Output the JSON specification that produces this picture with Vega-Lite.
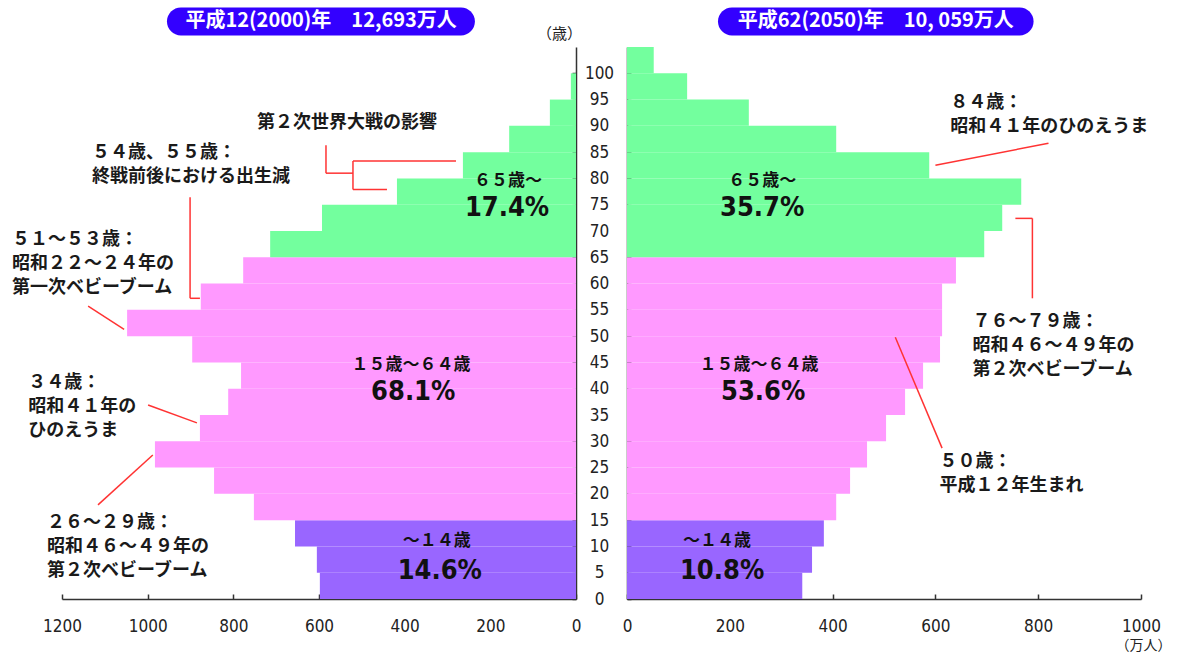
{
  "$schema": "https://vega.github.io/schema/vega-lite/v6.json",
  "width": 1178,
  "height": 599,
  "autosize": {"type": "none"},
  "padding": {"left": 0, "top": 0, "right": 0, "bottom": 55},
  "background": "white",
  "config": {
    "view": {"stroke": null},
    "axis": {"grid": false, "domainColor": "#333333", "tickColor": "#333333", "domainWidth": 1.5, "tickWidth": 1.5, "labelFont": "DejaVu Sans Condensed, Liberation Sans, sans-serif", "labelFontSize": 17, "labelColor": "#222222", "labelOverlap": false, "labelFlush": false, "labelBound": false, "format": "d", "titleFont": "Noto Sans CJK JP", "titleFontSize": 14, "titleFontWeight": "normal", "titleColor": "#222222"},
    "text": {"font": "Noto Sans CJK JP"}
  },
  "datasets": {
    "bars2000": [
      {"a": 0, "a2": 5, "v": 598, "grp": "0-14"},
      {"a": 5, "a2": 10, "v": 605, "grp": "0-14"},
      {"a": 10, "a2": 15, "v": 656, "grp": "0-14"},
      {"a": 15, "a2": 20, "v": 752, "grp": "15-64"},
      {"a": 20, "a2": 25, "v": 845, "grp": "15-64"},
      {"a": 25, "a2": 30, "v": 983, "grp": "15-64"},
      {"a": 30, "a2": 35, "v": 878, "grp": "15-64"},
      {"a": 35, "a2": 40, "v": 812, "grp": "15-64"},
      {"a": 40, "a2": 45, "v": 782, "grp": "15-64"},
      {"a": 45, "a2": 50, "v": 896, "grp": "15-64"},
      {"a": 50, "a2": 55, "v": 1048, "grp": "15-64"},
      {"a": 55, "a2": 60, "v": 876, "grp": "15-64"},
      {"a": 60, "a2": 65, "v": 777, "grp": "15-64"},
      {"a": 65, "a2": 70, "v": 714, "grp": "65+"},
      {"a": 70, "a2": 75, "v": 593, "grp": "65+"},
      {"a": 75, "a2": 80, "v": 418, "grp": "65+"},
      {"a": 80, "a2": 85, "v": 264, "grp": "65+"},
      {"a": 85, "a2": 90, "v": 156, "grp": "65+"},
      {"a": 90, "a2": 95, "v": 61, "grp": "65+"},
      {"a": 95, "a2": 100, "v": 12, "grp": "65+"}
    ],
    "bars2050": [
      {"a": 0, "a2": 5, "v": 341, "grp": "0-14"},
      {"a": 5, "a2": 10, "v": 360, "grp": "0-14"},
      {"a": 10, "a2": 15, "v": 383, "grp": "0-14"},
      {"a": 15, "a2": 20, "v": 407, "grp": "15-64"},
      {"a": 20, "a2": 25, "v": 434, "grp": "15-64"},
      {"a": 25, "a2": 30, "v": 467, "grp": "15-64"},
      {"a": 30, "a2": 35, "v": 504, "grp": "15-64"},
      {"a": 35, "a2": 40, "v": 541, "grp": "15-64"},
      {"a": 40, "a2": 45, "v": 576, "grp": "15-64"},
      {"a": 45, "a2": 50, "v": 609, "grp": "15-64"},
      {"a": 50, "a2": 55, "v": 613, "grp": "15-64"},
      {"a": 55, "a2": 60, "v": 613, "grp": "15-64"},
      {"a": 60, "a2": 65, "v": 640, "grp": "15-64"},
      {"a": 65, "a2": 70, "v": 695, "grp": "65+"},
      {"a": 70, "a2": 75, "v": 730, "grp": "65+"},
      {"a": 75, "a2": 80, "v": 767, "grp": "65+"},
      {"a": 80, "a2": 85, "v": 588, "grp": "65+"},
      {"a": 85, "a2": 90, "v": 407, "grp": "65+"},
      {"a": 90, "a2": 95, "v": 237, "grp": "65+"},
      {"a": 95, "a2": 100, "v": 117, "grp": "65+"},
      {"a": 100, "a2": 105, "v": 52, "grp": "65+"}
    ],
    "groups2000": [
      {"v": 159, "a": 79.5, "t": "６５歳～"},
      {"v": 385, "a": 44.5, "t": "１５歳～６４歳"},
      {"v": 325, "a": 11, "t": "～１４歳"}
    ],
    "pct2000": [
      {"v": 161, "a": 74.4, "t": "17.4%"},
      {"v": 380, "a": 39.3, "t": "68.1%"},
      {"v": 318, "a": 5.3, "t": "14.6%"}
    ],
    "groups2050": [
      {"v": 263, "a": 79.5, "t": "６５歳～"},
      {"v": 257, "a": 44.5, "t": "１５歳～６４歳"},
      {"v": 175, "a": 11, "t": "～１４歳"}
    ],
    "pct2050": [
      {"v": 263, "a": 74.4, "t": "35.7%"},
      {"v": 265, "a": 39.3, "t": "53.6%"},
      {"v": 185, "a": 5.3, "t": "10.8%"}
    ],
    "notes2000": [
      {"v": 745, "a": 92.2, "t": "第２次世界大戦の影響"},
      {"v": 1130, "a": 86.5, "t": "５４歳、５５歳：\n終戦前後における出生減"},
      {"v": 1317, "a": 70.0, "t": "５１～５３歳：\n昭和２２～２４年の\n第一次ベビーブーム"},
      {"v": 1279, "a": 42.8, "t": "３４歳：\n昭和４１年の\nひのえうま"},
      {"v": 1235, "a": 16.2, "t": "２６～２９歳：\n昭和４６～４９年の\n第２次ベビーブーム"}
    ],
    "notes2050": [
      {"v": 629, "a": 96.0, "t": "８４歳：\n昭和４１年のひのえうま"},
      {"v": 672, "a": 54.4, "t": "７６～７９歳：\n昭和４６～４９年の\n第２次ベビーブーム"},
      {"v": 608, "a": 27.8, "t": "５０歳：\n平成１２年生まれ"}
    ],
    "lines2000": [
      {"v": 583.7, "v2": 583.7, "a": 86.3, "a2": 81.0},
      {"v": 583.7, "v2": 520.7, "a": 81.0, "a2": 81.0},
      {"v": 520.7, "v2": 520.7, "a": 83.3, "a2": 77.9},
      {"v": 520.7, "v2": 280.2, "a": 83.3, "a2": 83.3},
      {"v": 520.7, "v2": 441.3, "a": 77.9, "a2": 77.9},
      {"v": 901, "v2": 901, "a": 76.4, "a2": 57.2},
      {"v": 901, "v2": 878, "a": 57.2, "a2": 57.2},
      {"v": 1139, "v2": 1055, "a": 55.7, "a2": 51.3},
      {"v": 999, "v2": 885, "a": 36.9, "a2": 33.5},
      {"v": 1116, "v2": 988, "a": 17.9, "a2": 27.4}
    ],
    "lines2050": [
      {"v": 600, "v2": 820, "a": 82.5, "a2": 86.7},
      {"v": 755.6, "v2": 788.7, "a": 72.4, "a2": 72.4},
      {"v": 788.7, "v2": 788.7, "a": 72.4, "a2": 57.2},
      {"v": 522, "v2": 613, "a": 49.8, "a2": 28.7}
    ],
    "pill2000": [{"v": 955, "v2": 236, "a": 112.5, "a2": 107.2}],
    "pill2050": [{"v": 177, "v2": 791, "a": 112.5, "a2": 107.2}],
    "pilltext2000": [{"v": 595, "a": 109.9, "t": "平成12(2000)年　12,693万人"}],
    "pilltext2050": [{"v": 484, "a": 109.9, "t": "平成62(2050)年　10, 059万人"}]
  },
  "layer": [
    {
      "encoding": {
        "x": {"field": "v", "type": "quantitative", "scale": {"domain": [0, 1200], "range": [576, 62], "nice": false, "zero": false},
          "axis": {"orient": "bottom", "values": [0, 200, 400, 600, 800, 1000, 1200], "tickSize": -5, "labelPadding": 32, "labelBaseline": "middle", "title": null}},
        "y": {"field": "a", "type": "quantitative", "scale": {"domain": [0, 105], "range": [599, 47], "nice": false, "zero": false},
          "axis": {"orient": "left", "offset": -576, "values": [0, 5, 10, 15, 20, 25, 30, 35, 40, 45, 50, 55, 60, 65, 70, 75, 80, 85, 90, 95, 100], "tickSize": 4, "labelPadding": -27, "labelAlign": "center", "labelBaseline": "middle", "title": "（歳）", "titleFontSize": 15, "titleAngle": 0, "titleX": -17, "titleY": 33, "titleAlign": "center", "titleBaseline": "middle"}}
      },
      "layer": [
        {"data": {"name": "bars2000"}, "mark": {"type": "rect", "strokeWidth": 0},
          "encoding": {"x2": {"datum": 0}, "y2": {"field": "a2"},
            "color": {"field": "grp", "type": "nominal", "scale": {"domain": ["0-14", "15-64", "65+"], "range": ["#9966FF", "#FF99FF", "#73FF9E"]}, "legend": null}}},
        {"data": {"name": "pill2000"}, "mark": {"type": "rect", "color": "#3300FF", "cornerRadius": 14},
          "encoding": {"x2": {"field": "v2"}, "y2": {"field": "a2"}}},
        {"data": {"name": "pilltext2000"}, "mark": {"type": "text", "color": "white", "fontSize": 20, "fontWeight": "bold", "align": "center", "baseline": "middle"},
          "encoding": {"text": {"field": "t"}}},
        {"data": {"name": "lines2000"}, "mark": {"type": "rule", "color": "#FF3333", "strokeWidth": 1.5},
          "encoding": {"x2": {"field": "v2"}, "y2": {"field": "a2"}}},
        {"data": {"name": "groups2000"}, "mark": {"type": "text", "color": "#111111", "fontSize": 17, "fontWeight": "bold", "align": "center", "baseline": "middle"},
          "encoding": {"text": {"field": "t"}}},
        {"data": {"name": "pct2000"}, "mark": {"type": "text", "color": "#111111", "font": "DejaVu Sans Condensed, Liberation Sans, sans-serif", "fontSize": 27, "fontWeight": "bold", "align": "center", "baseline": "middle"},
          "encoding": {"text": {"field": "t"}}},
        {"data": {"name": "notes2000"}, "mark": {"type": "text", "color": "#1a1a1a", "fontSize": 18, "fontWeight": "bold", "align": "left", "baseline": "top", "lineBreak": "\n", "lineHeight": 24},
          "encoding": {"text": {"field": "t"}}}
      ]
    },
    {
      "encoding": {
        "x": {"field": "v", "type": "quantitative", "scale": {"domain": [0, 1000], "range": [627, 1141], "nice": false, "zero": false},
          "axis": {"orient": "bottom", "values": [0, 200, 400, 600, 800, 1000], "tickSize": -5, "labelPadding": 32, "labelBaseline": "middle", "title": "（万人）", "titleX": 1143, "titleY": 46, "titleAlign": "center", "titleBaseline": "middle", "titleAngle": 0}},
        "y": {"field": "a", "type": "quantitative", "scale": {"domain": [0, 105], "range": [599, 47], "nice": false, "zero": false},
          "axis": {"orient": "left", "offset": -627, "values": [0, 5, 10, 15, 20, 25, 30, 35, 40, 45, 50, 55, 60, 65, 70, 75, 80, 85, 90, 95, 100], "tickSize": -4, "labels": false, "title": null}}
      },
      "layer": [
        {"data": {"name": "bars2050"}, "mark": {"type": "rect", "strokeWidth": 0},
          "encoding": {"x2": {"datum": 0}, "y2": {"field": "a2"},
            "color": {"field": "grp", "type": "nominal", "scale": {"domain": ["0-14", "15-64", "65+"], "range": ["#9966FF", "#FF99FF", "#73FF9E"]}, "legend": null}}},
        {"data": {"name": "pill2050"}, "mark": {"type": "rect", "color": "#3300FF", "cornerRadius": 14},
          "encoding": {"x2": {"field": "v2"}, "y2": {"field": "a2"}}},
        {"data": {"name": "pilltext2050"}, "mark": {"type": "text", "color": "white", "fontSize": 20, "fontWeight": "bold", "align": "center", "baseline": "middle"},
          "encoding": {"text": {"field": "t"}}},
        {"data": {"name": "lines2050"}, "mark": {"type": "rule", "color": "#FF3333", "strokeWidth": 1.5},
          "encoding": {"x2": {"field": "v2"}, "y2": {"field": "a2"}}},
        {"data": {"name": "groups2050"}, "mark": {"type": "text", "color": "#111111", "fontSize": 17, "fontWeight": "bold", "align": "center", "baseline": "middle"},
          "encoding": {"text": {"field": "t"}}},
        {"data": {"name": "pct2050"}, "mark": {"type": "text", "color": "#111111", "font": "DejaVu Sans Condensed, Liberation Sans, sans-serif", "fontSize": 27, "fontWeight": "bold", "align": "center", "baseline": "middle"},
          "encoding": {"text": {"field": "t"}}},
        {"data": {"name": "notes2050"}, "mark": {"type": "text", "color": "#1a1a1a", "fontSize": 18, "fontWeight": "bold", "align": "left", "baseline": "top", "lineBreak": "\n", "lineHeight": 24},
          "encoding": {"text": {"field": "t"}}}
      ]
    }
  ],
  "resolve": {"scale": {"x": "independent", "y": "independent"}, "axis": {"x": "independent", "y": "independent"}}
}
